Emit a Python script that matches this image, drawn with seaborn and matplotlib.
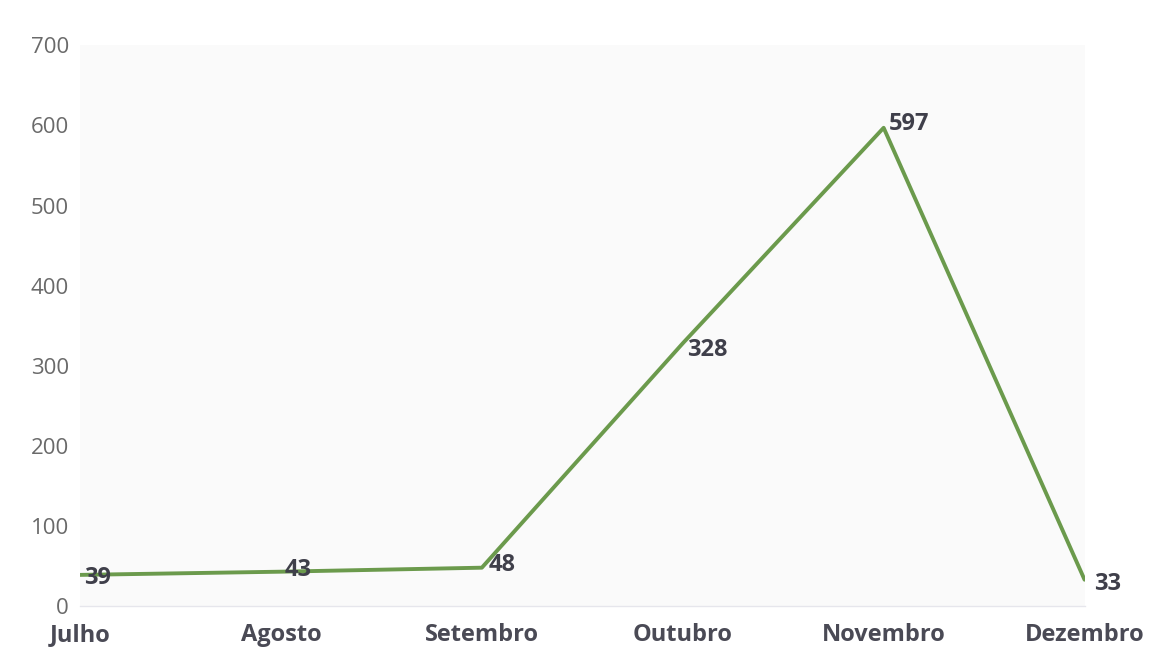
import matplotlib
matplotlib.use("Agg")
import matplotlib.pyplot as plt
import seaborn as sns
import pandas as pd

months = ["Julho", "Agosto", "Setembro", "Outubro", "Novembro", "Dezembro"]
values = [39, 43, 48, 328, 597, 33]
y_ticks = [0, 100, 200, 300, 400, 500, 600, 700]

sns.set_theme(style="white")
plt.rcParams["font.family"] = ["Open Sans", "DejaVu Sans"]

df = pd.DataFrame({"mes": months, "valor": values, "pos": range(len(months))})

fig = plt.figure(figsize=(11.55, 6.56), dpi=100)
fig.patch.set_facecolor("white")
ax = fig.add_axes([0.0693, 0.076, 0.8697, 0.855])
ax.set_facecolor("#fafafa")

sns.lineplot(data=df, x="pos", y="valor", ax=ax, color="#6b9a4c", linewidth=2.8)

offsets = [(3, -2), (3, 1), (5, 2), (3, -5), (4, 3), (7, -3)]
for (i, v), (dx, dy) in zip(enumerate(values), offsets):
    ax.annotate(str(v), (i, v), xytext=(dx, dy), textcoords="offset points",
                ha="left", va="center", fontsize=17, fontweight="bold", color="#3f3f4a")

ax.set_xlim(0, len(months) - 1)
ax.set_ylim(0, 700)
ax.set_yticks(y_ticks)
ax.set_yticklabels([str(t) for t in y_ticks], fontsize=16, color="#6a6a6a")
ax.set_xticks(range(len(months)))
ax.set_xticklabels(months, fontsize=17, fontweight="bold", color="#4a4a55")
ax.tick_params(axis="x", pad=12, length=0)
ax.tick_params(axis="y", pad=8, length=0)
ax.set_xlabel("")
ax.set_ylabel("")
for s in ["top", "right", "left"]:
    ax.spines[s].set_visible(False)
ax.spines["bottom"].set_color("#e6e6ec")
ax.spines["bottom"].set_linewidth(1)

fig.savefig("out.png", dpi=100)
